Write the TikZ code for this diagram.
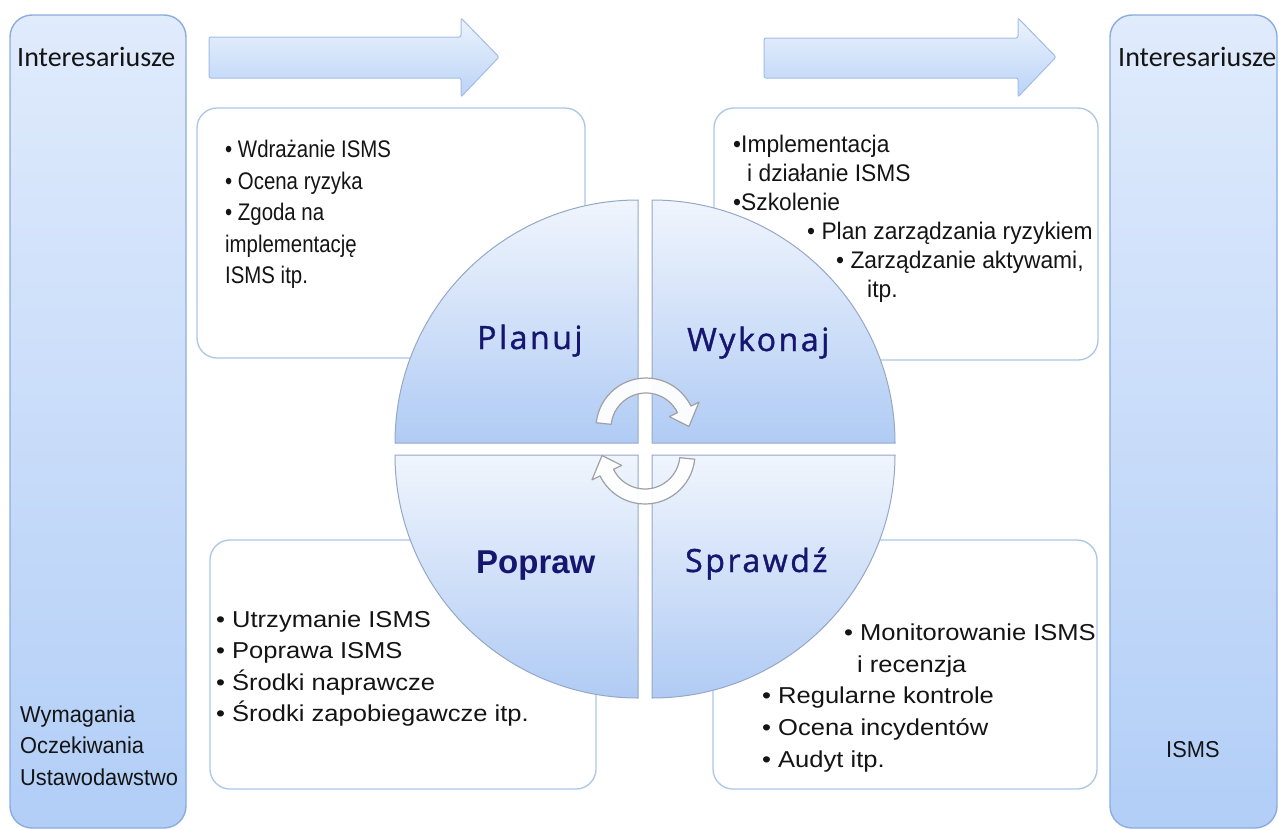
\documentclass[tikz,border=0pt]{standalone}
\usepackage{fontspec}
\setmainfont{Liberation Sans}
\newfontfamily\headfont{Carlito}
\newfontfamily\quadfont[LetterSpace=8, FakeBold=1.2]{Open Sans}
\newfontfamily\planfont[FakeStretch=0.85]{Liberation Sans}
\newfontfamily\dofont[FakeStretch=0.95]{Liberation Sans}
\newfontfamily\lowfont[FakeStretch=1.11]{Liberation Sans}
\newfontfamily\sidefont[FakeStretch=0.95]{Liberation Sans}

\definecolor{barTop}{RGB}{224,235,252}
\definecolor{barBot}{RGB}{178,206,247}
\definecolor{barEdge}{RGB}{140,172,222}
\definecolor{arrTop}{RGB}{236,243,253}
\definecolor{arrBot}{RGB}{186,211,247}
\definecolor{quadTop}{RGB}{240,245,253}
\definecolor{quadBot}{RGB}{176,203,244}
\definecolor{quadEdge}{RGB}{150,168,198}
\definecolor{boxEdge}{RGB}{172,198,232}
\definecolor{navy}{RGB}{22,22,112}
\definecolor{ink}{RGB}{20,20,20}
\definecolor{cycEdge}{RGB}{160,160,166}

\tikzset{
  sidebar/.style={top color=barTop, bottom color=barBot, draw=barEdge, line width=1.4bp, rounded corners=22bp},
  flowarrow/.style={top color=arrTop, bottom color=arrBot, draw=barEdge!80, line width=1bp, rounded corners=2bp},
  textbox/.style={fill=white, draw=boxEdge, line width=1.3bp, rounded corners=20bp},
  quarter/.style={top color=quadTop, bottom color=quadBot, draw=quadEdge, line width=1bp},
  txt/.style={anchor=base west, inner sep=0pt, text=ink},
  headtxt/.style={txt, font={\headfont\fontsize{28bp}{32bp}\selectfont}},
  plantxt/.style={txt, font={\planfont\fontsize{24bp}{28bp}\selectfont}},
  dotxt/.style={txt, font={\dofont\fontsize{24bp}{28bp}\selectfont}},
  lowtxt/.style={txt, font={\lowfont\fontsize{23bp}{27bp}\selectfont}},
  sidetxt/.style={txt, font={\sidefont\fontsize{23bp}{27bp}\selectfont}},
  quadlabel/.style={anchor=base west, inner sep=0pt, text=navy, font={\quadfont\fontsize{32bp}{36bp}\selectfont}},
  cyc/.style={fill=white, fill opacity=0.95, draw=cycEdge, line width=1.2bp, line join=round},
  cyclearrow/.pic={
    \path[cyc] (174:50) arc[start angle=174, end angle=26, radius=50]
      -- (26:59) -- (2:43) -- (26:26) -- (26:35)
      arc[start angle=26, end angle=174, radius=35] -- cycle;
  }
}

\begin{document}
\begin{tikzpicture}[x=1bp, y=1bp]
\useasboundingbox (0,0) rectangle (1279,-830);
\fill[white] (0,0) rectangle (1279,-830);

% side bars
\path[sidebar] (10,-15) rectangle (186,-828);
\path[sidebar] (1110,-15) rectangle (1277,-828);

% flow arrows along the top
\path[flowarrow] (209,-37) -- (461,-37) -- (461,-18) -- (499,-57) -- (461,-97) -- (461,-78) -- (209,-78) -- cycle;
\path[flowarrow] (764,-38) -- (1018,-38) -- (1018,-18) -- (1056,-57) -- (1018,-97) -- (1018,-78) -- (764,-78) -- cycle;

% text boxes behind the wheel
\path[textbox] (197,-108) rectangle (585,-358);
\path[textbox] (714,-108) rectangle (1098,-360);
\path[textbox] (210,-540) rectangle (596,-789);
\path[textbox] (713,-540) rectangle (1097,-789);

% the four quarters of the wheel
\path[quarter] (638,-443) -- (395,-443) arc[start angle=180, end angle=90, radius=243] -- cycle;
\path[quarter] (652,-443) -- (652,-200) arc[start angle=90, end angle=0, radius=243] -- cycle;
\path[quarter] (638,-455) -- (395,-455) arc[start angle=180, end angle=270, radius=243] -- cycle;
\path[quarter] (652,-455) -- (895,-455) arc[start angle=0, end angle=-90, radius=243] -- cycle;

% cycle arrows in the middle
\pic at (646,-428) {cyclearrow};
\pic[rotate=180] at (645,-454) {cyclearrow};

% quarter labels
\node[quadlabel] (plan) at (477,-349) {Planuj};
\node[quadlabel] (do) at (687,-351) {Wykonaj};
\node[quadlabel] (check) at (685,-572) {Sprawdź};
\node[anchor=base west, inner sep=0pt, text=navy, font={\bfseries\fontsize{33bp}{37bp}\selectfont}] (act) at (476,-573) {Popraw};

% side bar texts
\node[headtxt] (stakeL) at (17,-66) {Interesariusze};
\node[headtxt] (stakeR) at (1118,-66) {Interesariusze};
\node[sidetxt] (req1) at (20,-722) {Wymagania};
\node[sidetxt] (req2) at (20,-753) {Oczekiwania};
\node[sidetxt] (req3) at (20,-785) {Ustawodawstwo};
\node[sidetxt] (isms) at (1166,-757) {ISMS};

% plan box
\node[plantxt] (p1) at (225,-157) {• Wdrażanie ISMS};
\node[plantxt] (p2) at (225,-189) {• Ocena ryzyka};
\node[plantxt] (p3) at (225,-220) {• Zgoda na};
\node[plantxt] (p4) at (225,-252) {implementację};
\node[plantxt] (p5) at (225,-283) {ISMS itp.};

% do box
\node[dotxt] (d1) at (733,-152) {•Implementacja};
\node[dotxt] (d2) at (747,-181) {i działanie ISMS};
\node[dotxt] (d3) at (733,-210) {•Szkolenie};
\node[dotxt] (d4) at (807,-239) {• Plan zarządzania ryzykiem};
\node[dotxt] (d5) at (836,-268) {• Zarządzanie aktywami,};
\node[dotxt] (d6) at (867,-297) {itp.};

% act box
\node[lowtxt] (a1) at (216,-627) {• Utrzymanie ISMS};
\node[lowtxt] (a2) at (216,-658) {• Poprawa ISMS};
\node[lowtxt] (a3) at (216,-690) {• Środki naprawcze};
\node[lowtxt] (a4) at (216,-721) {• Środki zapobiegawcze itp.};

% check box
\node[lowtxt] (c1) at (844,-640) {• Monitorowanie ISMS};
\node[lowtxt] (c2) at (857,-672) {i recenzja};
\node[lowtxt] (c3) at (762,-703) {• Regularne kontrole};
\node[lowtxt] (c4) at (762,-735) {• Ocena incydentów};
\node[lowtxt] (c5) at (762,-767) {• Audyt itp.};
\end{tikzpicture}
\end{document}
